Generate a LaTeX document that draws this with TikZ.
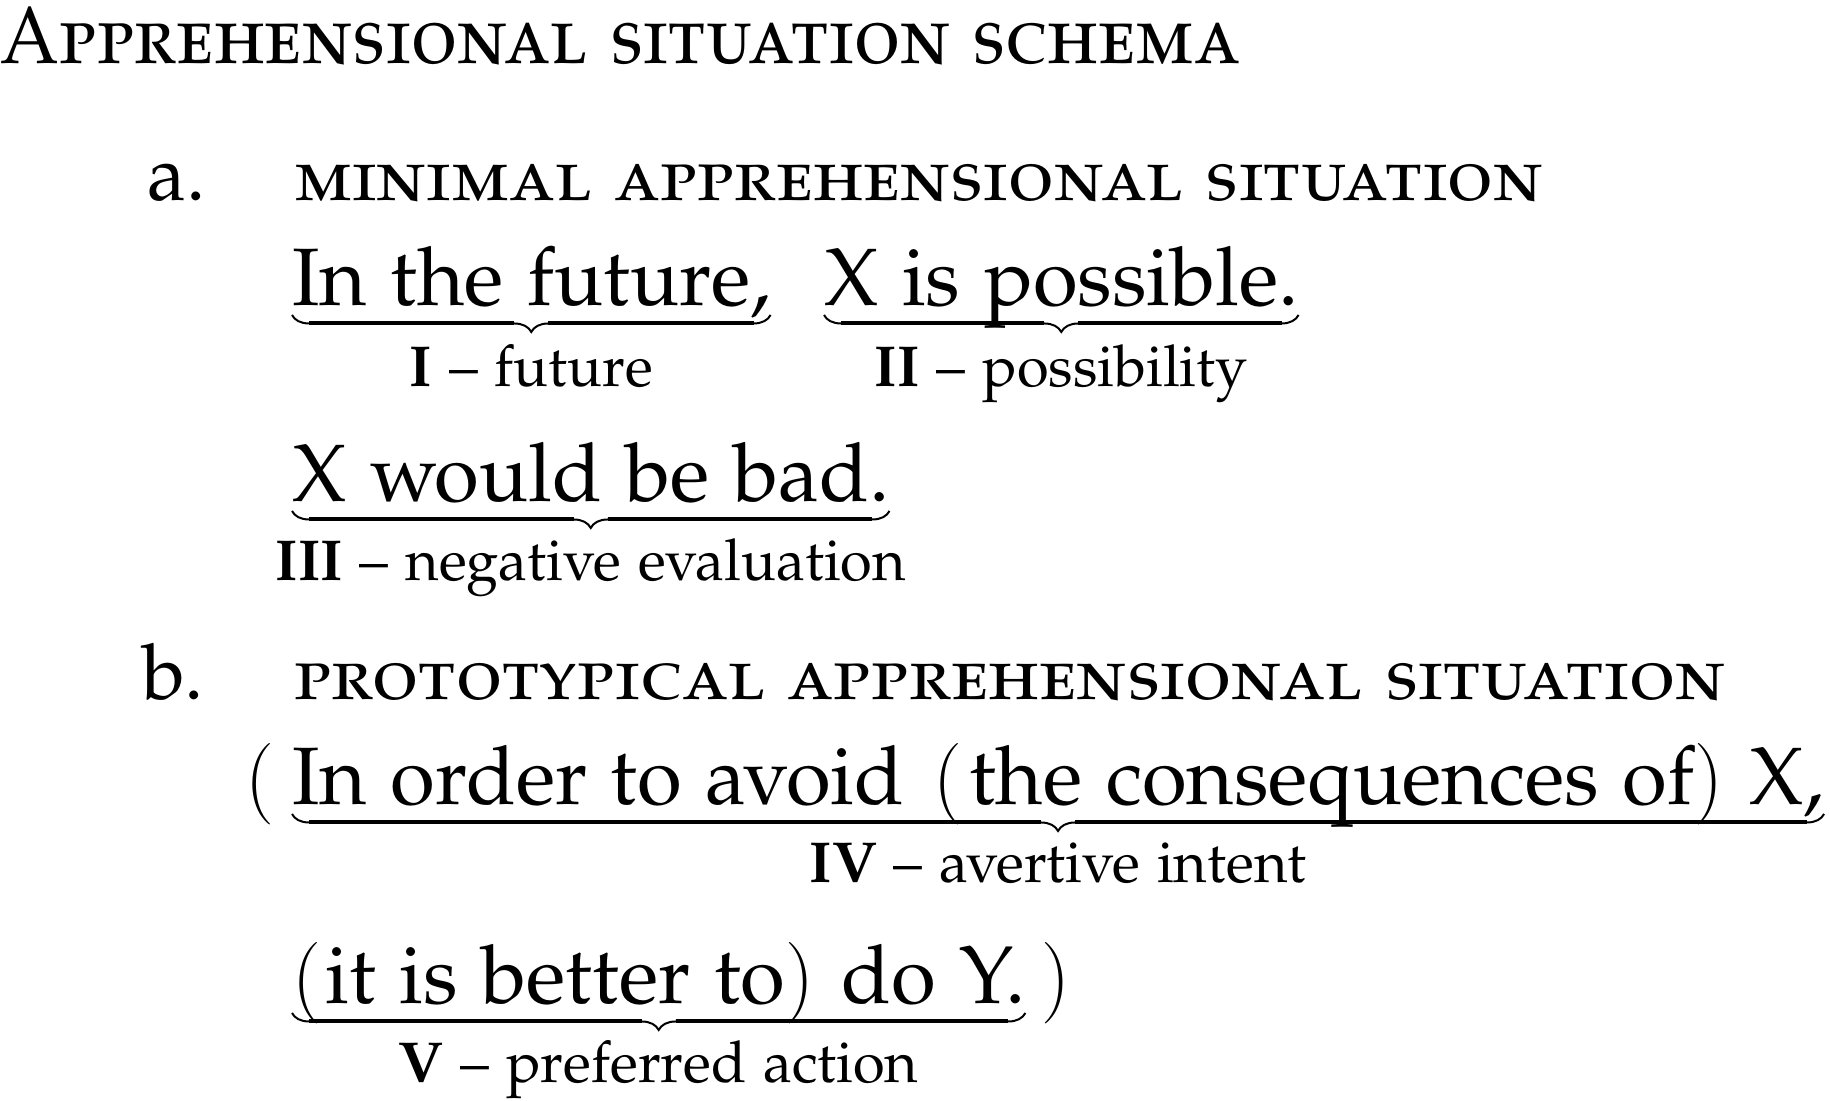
\documentclass[tikz,border=0pt]{standalone}
\usepackage[T1]{fontenc}
\usepackage[sc]{mathpazo}
\usetikzlibrary{decorations.pathreplacing,calc}
\newcommand\tpL{{\fontencoding{TU}\fontfamily{lmr}\selectfont(}}
\newcommand\tpR{{\fontencoding{TU}\fontfamily{lmr}\selectfont)}}
\newcommand\ubr[2]{%
  \draw[ubrace] ($(#1.base west)+(0,9)$) -- ($(#1.base east)+(0,9)$) coordinate[midway] (#2);
  \draw[ubar] ($(#1.base west)+(17,17.5)$) -- ($(#2)+(-17,8.5)$);
  \draw[ubar] ($(#2)+(17,8.5)$) -- ($(#1.base east)+(-17,17.5)$);
}
\begin{document}
\begin{tikzpicture}[x=0.2pt,y=-0.2pt,
  txt/.style={inner sep=0pt,outer sep=0pt,anchor=base west},
  main/.style={txt,font=\fontsize{16.3}{20}\selectfont},
  head/.style={txt,font=\fontsize{14.5}{18}\selectfont},
  titlef/.style={txt,font=\fontsize{16.2}{20}\selectfont},
  exnum/.style={txt,font=\fontsize{15.5}{19}\selectfont},
  lab/.style={inner sep=0pt,outer sep=0pt,anchor=base,font=\fontsize{11.55}{14}\selectfont},
  ubrace/.style={decorate,decoration={brace,mirror,amplitude=3.4pt},line width=0.4pt},
  ubar/.style={line width=0.8pt}]
\useasboundingbox (0,0) rectangle (1830,1101);
% title
\node[titlef] (title) at (1,64) {\scalebox{0.93}[1]{\textsc{Apprehensional situation schema}}};
% a.
\node[exnum] (la) at (148,201) {a.};
\node[head] (ha) at (294,201) {\scalebox{1.03}[1]{\textsc{minimal apprehensional situation}}};
\node[main] (t1) at (292,306) {In the future,};
\node[main] (t2) at (824,306) {X is possible.};
\ubr{t1}{m1}
\ubr{t2}{m2}
\node[lab] (l1) at ($(m1)+(0,72)$) {\textbf{I} -- future};
\node[lab] (l2) at ($(m2)+(0,72)$) {\textbf{II} -- possibility};
\node[main] (t3) at (292,502) {X would be bad.};
\ubr{t3}{m3}
\node[lab] (l3) at ($(m3)+(0,70)$) {\textbf{III} -- negative evaluation};
% b.
\node[exnum] (lb) at (142,700) {b.};
\node[head] (hb) at (294,700) {\scalebox{1.04}[1]{\textsc{prototypical apprehensional situation}}};
\node[main] (t4) at (292,805) {In order to avoid \kern1pt\tpL\kern1.5pt the consequences of\tpR\kern0.5pt{} X,};
\node[main,anchor=base east] (p1) at ($(t4.base west)+(-18,0)$) {\tpL};
\ubr{t4}{m4}
\node[lab] (l4) at ($(m4)+(0,69)$) {\textbf{IV} -- avertive intent};
\node[main] (t5) at (292,1004) {\tpL\kern1pt it is better to\tpR\kern0.8pt{} do Y.};
\node[main] (p2) at ($(t5.base east)+(16,0)$) {\tpR};
\ubr{t5}{m5}
\node[lab] (l5) at ($(m5)+(0,70)$) {\textbf{V} -- preferred action};
\end{tikzpicture}
\end{document}
